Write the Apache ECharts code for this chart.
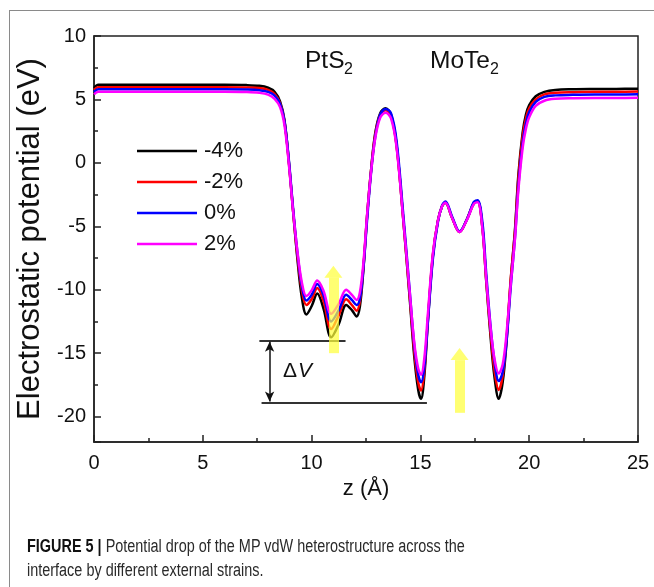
<!DOCTYPE html>
<html>
<head>
<meta charset="utf-8">
<script src="https://cdn.jsdelivr.net/npm/echarts@6/dist/echarts.min.js"></script>
<style>
  html, body { margin: 0; padding: 0; background: #fff; }
  #wrap { position: relative; width: 654px; height: 587px; overflow: hidden; }
  #frame { position: absolute; left: 9px; top: 10px; width: 700px; height: 620px; border-left: 1px solid #8a8a8a; border-top: 1px solid #8a8a8a; }
  #chart { position: absolute; left: 0; top: 0; width: 654px; height: 587px; }
  #caption {
    position: absolute; left: 27px; top: 534px; width: 800px;
    font-family: 'Liberation Sans', Arial, sans-serif;
    font-size: 18px; line-height: 24px; color: #2a2a2a;
    transform-origin: 0 0; white-space: nowrap;
  }
  #caption b { font-weight: bold; color: #111; }
</style>
</head>
<body>
<div id="wrap">
  <div id="frame"></div>
  <div id="chart"></div>
  <div id="caption"><span id="line1"><b>FIGURE 5 |</b> Potential drop of the MP vdW heterostructure across the</span><br>interface by different external strains.</div>
</div>
<script>
// z positions (Å)
const zGrid = [0, 0.2, 2, 4, 6, 7, 7.6, 8.0, 8.3, 8.55,
  8.75, 8.95, 9.15, 9.35, 9.55, 9.76, 10.0, 10.26, 10.55, 10.9,
  11.25, 11.59, 11.85, 12.07, 12.22, 12.38, 12.55, 12.72, 12.92, 13.15,
  13.4, 13.65, 13.9, 14.2, 14.5, 14.72, 14.9, 15.03, 15.18, 15.34,
  15.57, 15.8, 16.0, 16.15, 16.45, 16.8, 17.15, 17.45, 17.63, 17.85,
  18.02, 18.22, 18.4, 18.6, 18.78, 18.95, 19.15, 19.35, 19.5, 19.7,
  19.85, 20.0, 20.3, 20.7, 21.2, 22, 23, 24, 25]

// electrostatic potential (eV) for each strain
const strainM4 = [5.9, 6.15, 6.15, 6.15, 6.15, 6.13, 6.07, 5.92, 5.6, 4.85,
  3.4, 0.2, -3.8, -7.6, -10.6, -11.95, -11.3, -10.3, -11.5, -13.75,
  -12.7, -11.2, -11.6, -12.1, -11.3, -8.4, -4.2, -0.8, 2.3, 3.9,
  4.3, 3.8, 1.5, -4.2, -10.5, -15.3, -17.9, -18.6, -16.8, -12.6,
  -7.4, -4.6, -3.4, -3.15, -4.3, -5.45, -4.4, -3.2, -3.05, -5.1,
  -9.2, -13.6, -16.8, -18.6, -17.3, -14.3, -9.3, -5.2, -1.0, 2.4,
  3.8, 4.55, 5.25, 5.6, 5.75, 5.8, 5.82, 5.83, 5.85]
const strainM2 = [5.75, 5.97, 5.97, 5.97, 5.97, 5.95, 5.9, 5.75, 5.42, 4.7,
  3.3, 0.1, -3.8, -7.4, -10.0, -11.2, -10.75, -9.87, -10.9, -13.1,
  -12.0, -10.75, -11.2, -11.65, -10.9, -8.2, -4.2, -0.8, 2.2, 3.8,
  4.15, 3.7, 1.4, -4.2, -10.3, -14.9, -17.3, -17.95, -16.4, -12.4,
  -7.3, -4.6, -3.4, -3.15, -4.3, -5.45, -4.4, -3.2, -3.05, -5.1,
  -9.1, -13.3, -16.3, -17.9, -16.8, -14.0, -9.2, -5.3, -1.3, 2.1,
  3.5, 4.3, 5.0, 5.4, 5.52, 5.57, 5.6, 5.6, 5.62]
const strain0 = [5.6, 5.8, 5.8, 5.8, 5.8, 5.78, 5.73, 5.6, 5.3, 4.65,
  3.3, 0.3, -3.6, -7.1, -9.7, -10.85, -10.4, -9.55, -10.45, -12.5,
  -11.6, -10.4, -10.8, -11.2, -10.7, -8.3, -4.5, -1.0, 2.0, 3.8,
  4.25, 3.9, 1.8, -3.8, -9.9, -14.4, -16.7, -17.3, -16.1, -12.6,
  -7.6, -4.7, -3.35, -3.05, -4.2, -5.4, -4.4, -3.1, -2.95, -4.7,
  -8.6, -12.8, -15.6, -17.2, -16.5, -14.2, -9.8, -5.8, -1.9, 1.6,
  3.1, 4.0, 4.8, 5.2, 5.32, 5.36, 5.38, 5.38, 5.4]
const strainP2 = [5.4, 5.6, 5.6, 5.6, 5.6, 5.58, 5.52, 5.38, 5.05, 4.4,
  3.0, 0.0, -3.8, -7.0, -9.4, -10.5, -10.05, -9.28, -10.1, -11.9,
  -11.1, -10.0, -10.4, -10.8, -10.2, -7.9, -4.1, -0.9, 1.9, 3.55,
  3.95, 3.5, 1.3, -4.2, -10.0, -14.2, -16.2, -16.7, -15.4, -12.0,
  -7.2, -4.6, -3.4, -3.15, -4.3, -5.45, -4.45, -3.25, -3.1, -5.2,
  -9.0, -12.9, -15.4, -16.6, -15.9, -13.6, -9.6, -5.9, -2.2, 1.2,
  2.7, 3.6, 4.5, 4.9, 5.05, 5.1, 5.12, 5.12, 5.14]

const seriesNames = ['-4%', '-2%', '0%', '2%']
const seriesColors = ['#000000', '#ff0000', '#0000ff', '#ff00ff']
const seriesValues = [strainM4, strainM2, strain0, strainP2]

// ΔV reference levels and yellow arrows [z, yFrom, yTo]
const dvTop = [[7.6, -14], [11.56, -14]]
const dvBottom = [[7.7, -18.9], [15.3, -18.9]]
const dvArrow = [[8.07, -14.1], [8.07, -18.8]]
const yellowArrows = [[11.0, -15.0, -8.1], [16.8, -19.7, -14.6]]

const font = "'Liberation Sans', Arial, sans-serif"
const axisColor = '#222'
const yellow = 'rgba(255,255,60,0.72)'

// squeeze caption line to the condensed width of the original
const line1 = document.getElementById('line1')
const cap = document.getElementById('caption')
cap.style.transform = 'scaleX(' + (438 / line1.offsetWidth).toFixed(3) + ')'

const chart = echarts.init(document.getElementById('chart'))

const series = seriesNames.map((name, i) => ({
  name: name,
  type: 'line',
  smooth: 0.35,
  symbol: 'none',
  lineStyle: { color: seriesColors[i], width: 2.5 },
  itemStyle: { color: seriesColors[i] },
  data: zGrid.map((z, k) => [z, seriesValues[i][k]])
}))

// annotation layer: ΔV lines and yellow arrows
const headH = 12 / 12.7
const solid = (color, width) => ({ color: color, width: width, type: 'solid' })
series.push({
  name: 'annot',
  type: 'line',
  data: [],
  z: 5,
  markLine: {
    silent: true,
    symbol: ['none', 'none'],
    label: { show: false },
    data: [
      [{ coord: dvTop[0], lineStyle: solid('#333', 2) }, { coord: dvTop[1] }],
      [{ coord: dvBottom[0], lineStyle: solid('#333', 2) }, { coord: dvBottom[1] }],
      [{ coord: dvArrow[0], symbol: 'arrow', symbolSize: [7, 10], lineStyle: solid('#111', 1.5) },
        { coord: dvArrow[1], symbol: 'arrow', symbolSize: [7, 10] }],
      ...yellowArrows.map(a => [
        { coord: [a[0], a[1]], lineStyle: solid(yellow, 10) },
        { coord: [a[0], a[2] - headH] }
      ])
    ]
  },
  markPoint: {
    silent: true,
    symbol: 'triangle',
    symbolSize: [18, 12],
    label: { show: false },
    itemStyle: { color: yellow },
    data: yellowArrows.map(a => ({ coord: [a[0], a[2] - headH / 2] }))
  }
})

chart.setOption({
  animation: false,
  backgroundColor: 'transparent',
  grid: {
    left: 94,
    right: 16,
    top: 36,
    bottom: 145,
    show: true,
    borderColor: axisColor,
    borderWidth: 1.5,
    backgroundColor: 'transparent'
  },
  legend: {
    orient: 'vertical',
    left: 137,
    top: 140,
    padding: 0,
    icon: 'rect',
    itemWidth: 60,
    itemHeight: 2.5,
    itemGap: 9,
    textStyle: { fontSize: 22, color: '#111', fontFamily: font, padding: [0, 0, 0, 2] },
    data: seriesNames
  },
  xAxis: {
    type: 'value',
    min: 0,
    max: 25,
    interval: 5,
    name: 'z (Å)',
    nameLocation: 'middle',
    nameGap: 36,
    nameTextStyle: { fontSize: 22, color: '#111', fontFamily: font },
    axisLine: { onZero: false, lineStyle: { color: axisColor, width: 1.5 } },
    axisTick: { inside: true, length: 7, lineStyle: { color: axisColor, width: 1.5 } },
    minorTick: { show: true, splitNumber: 2, length: 4, lineStyle: { color: axisColor, width: 1.5 } },
    splitLine: { show: false },
    axisLabel: { fontSize: 20, color: '#111', margin: 11, fontFamily: font }
  },
  yAxis: {
    type: 'value',
    min: -22,
    max: 10,
    minInterval: 5,
    maxInterval: 5,
    name: 'Electrostatic potential (eV)',
    nameLocation: 'middle',
    nameGap: 44,
    nameTextStyle: { fontSize: 31, color: '#111', fontFamily: font },
    axisLine: { show: true, onZero: false, lineStyle: { color: axisColor, width: 1.5 } },
    axisTick: { inside: true, length: 7, lineStyle: { color: axisColor, width: 1.5 } },
    minorTick: { show: true, splitNumber: 2, length: 4, lineStyle: { color: axisColor, width: 1.5 } },
    splitLine: { show: false },
    axisLabel: { showMinLabel: false, fontSize: 20, color: '#111', margin: 8, fontFamily: font }
  },
  graphic: [
    { type: 'text', left: 305, top: 49, style: { text: 'PtS', fontSize: 24.5, fontFamily: font, fill: '#111' } },
    { type: 'text', left: 344, top: 62, style: { text: '2', fontSize: 16, fontFamily: font, fill: '#111' } },
    { type: 'text', left: 430, top: 49, style: { text: 'MoTe', fontSize: 24.5, fontFamily: font, fill: '#111' } },
    { type: 'text', left: 490, top: 62, style: { text: '2', fontSize: 16, fontFamily: font, fill: '#111' } },
    { type: 'text', left: 283, top: 361, style: { text: 'Δ', fontSize: 21, fontFamily: font, fill: '#111' } },
    { type: 'text', left: 298, top: 361, style: { text: 'V', fontSize: 21, fontStyle: 'italic', fontFamily: font, fill: '#111' } }
  ],
  series: series
})
</script>
</body>
</html>
